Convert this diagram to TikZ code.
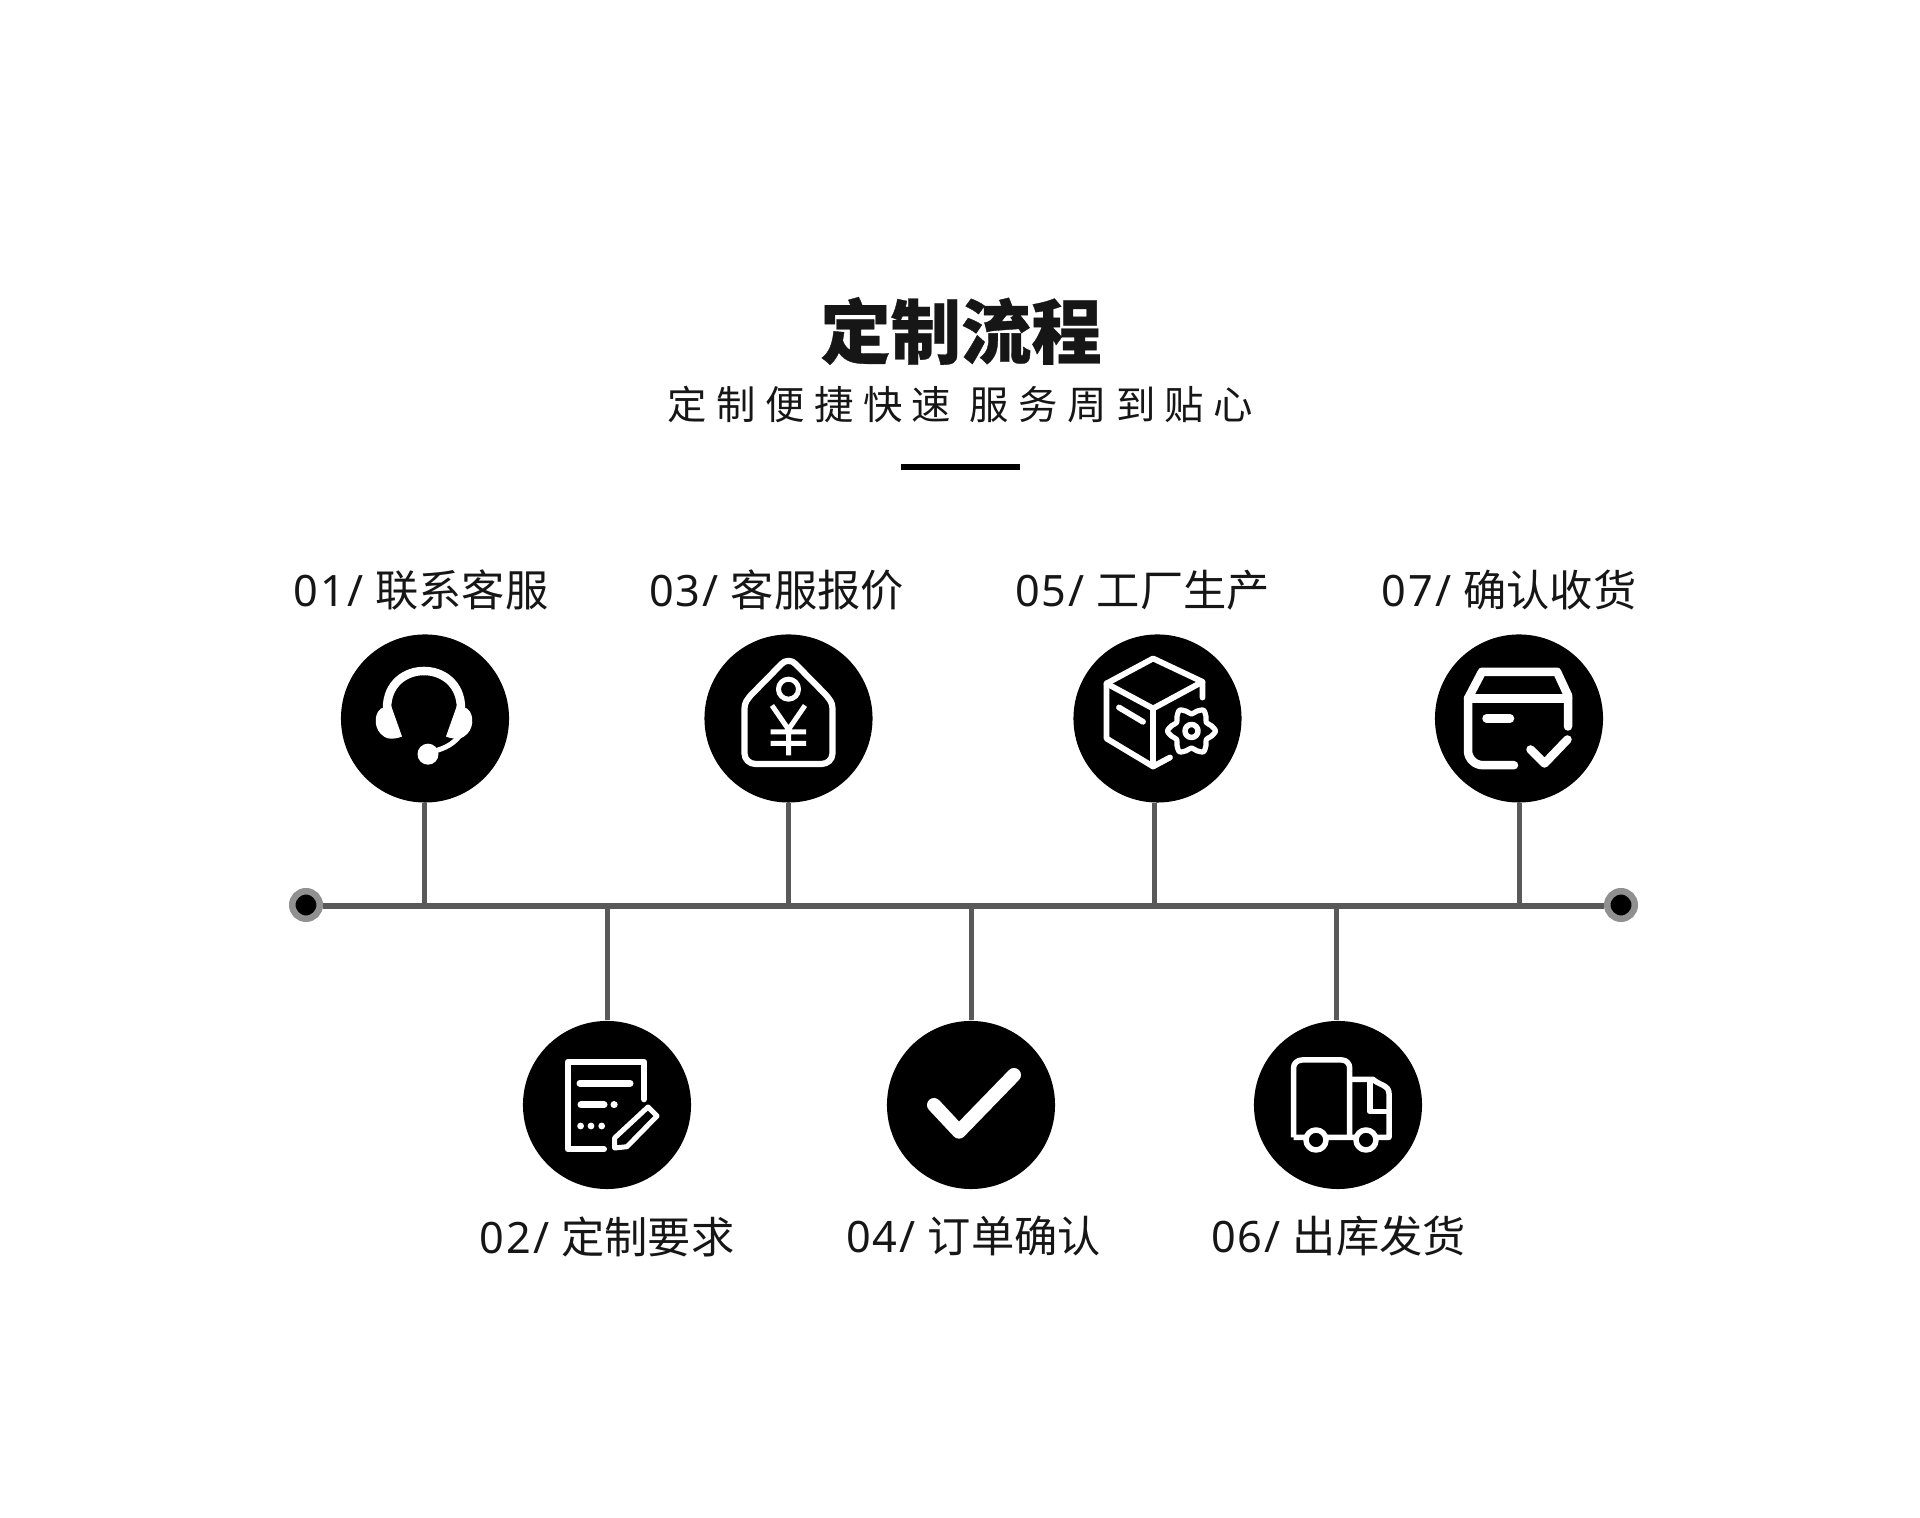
\documentclass[tikz,border=0pt]{standalone}
\usepackage{fontspec}
\setmainfont{Noto Sans CJK SC}
\newfontfamily\numfont{Noto Sans}
\usetikzlibrary{arrows.meta,positioning,calc}
\definecolor{linegray}{HTML}{595959}
\definecolor{dotgray}{HTML}{909090}
\definecolor{inkblack}{HTML}{161616}
\tikzset{
  stepcircle/.style={circle,fill=black,minimum size=1.68cm,inner sep=0pt},
  enddot/.style={circle,fill=black,draw=dotgray,line width=0.065cm,minimum size=0.275cm,inner sep=0pt},
  steplabel/.style={font=\fontsize{12.3pt}{14pt}\selectfont,text=inkblack,inner sep=0pt},
  mainline/.style={linegray,line width=0.06cm},
  stemline/.style={linegray,line width=0.05cm},
  icon/.style={white,line width=0.058cm,line join=round,line cap=round}
}
\newcommand{\stepno}[1]{{\numfont\addfontfeature{LetterSpace=5}#1}\hspace{0.12cm}}
\begin{document}
\begin{tikzpicture}[x=0.01cm,y=0.01cm]
\useasboundingbox (0,0) rectangle (1920,1518);
% heading
\node[text=inkblack,inner sep=0pt] (title) at (961,1187) {\fontsize{20pt}{24pt}\selectfont\bfseries\addfontfeature{FakeBold=0.5}定制流程};
\node[text=inkblack,inner sep=0pt] (subtitle) at (960.5,1113) {\fontsize{11.2pt}{13pt}\selectfont\addfontfeature{LetterSpace=24}定制便捷快速 服务周到贴心};
\node[fill=black,minimum width=1.19cm,minimum height=0.06cm,inner sep=0pt] (rule) at (960.5,1051) {};
% steps
\node[stepcircle] (c1) at (425,799.5) {};
\node[stepcircle] (c2) at (607,413) {};
\node[stepcircle] (c3) at (788.5,799.5) {};
\node[stepcircle] (c4) at (971,413) {};
\node[stepcircle] (c5) at (1157.5,799.5) {};
\node[stepcircle] (c6) at (1338,413) {};
\node[stepcircle] (c7) at (1519,799.5) {};
\node[steplabel] (l1) at (421,928) {\stepno{01/}联系客服};
\node[steplabel] (l2) at (607,281.5) {\stepno{02/}定制要求};
\node[steplabel] (l3) at (776.5,928) {\stepno{03/}客服报价};
\node[steplabel] (l4) at (973.5,281.5) {\stepno{04/}订单确认};
\node[steplabel] (l5) at (1142.5,928) {\stepno{05/}工厂生产};
\node[steplabel] (l6) at (1338.5,281.5) {\stepno{06/}出库发货};
\node[steplabel] (l7) at (1509,928) {\stepno{07/}确认收货};
% time line
\node[enddot] (dotl) at (306,613) {};
\node[enddot] (dotr) at (1621,613) {};
\draw[mainline] ([yshift=-0.015cm]dotl.east) -- ([yshift=-0.015cm]dotr.west);
\coordinate (j1) at (424.5,611);
\coordinate (j2) at (607,611);
\coordinate (j3) at (788.5,611);
\coordinate (j4) at (971.5,611);
\coordinate (j5) at (1154,611);
\coordinate (j6) at (1336,611);
\coordinate (j7) at (1519,611);
\foreach \i in {1,3,5,7} \draw[stemline] (c\i.south-|j\i) -- (j\i);
\foreach \i in {2,4,6} \draw[stemline] (c\i.north-|j\i) -- (j\i);
% headset
\begin{scope}[shift={(c1.center)}]
\draw[icon,line width=0.085cm,line cap=butt] (-38,10) .. controls (-38,60) and (36,60) .. (36,10);
\fill[white] (-34,13) -- (-23,-18) .. controls (-30,-21) and (-38,-21) .. (-41,-18) .. controls (-51,-12) and (-52,4) .. (-44,10) -- cycle;
\fill[white] (32,13) -- (21,-18) .. controls (28,-21) and (36,-21) .. (39,-18) .. controls (49,-12) and (50,4) .. (42,10) -- cycle;
\draw[icon,line width=0.05cm] (8,-33) .. controls (20,-30) and (30,-25) .. (37,-14);
\fill[white] (3,-35.7) circle (10.5);
\end{scope}
% price tag
\begin{scope}[shift={(c3.center)}]
\draw[icon,line width=0.062cm] (-44,10) -- (-44,-35) to[out=-90,in=180] (-33,-45.5) -- (33,-45.5) to[out=0,in=-90] (44,-35) -- (44,10) to[out=90,in=-50] (37,24) -- (7,54.5) to[out=130,in=50] (-7,54.5) -- (-37,24) to[out=-130,in=90] (-44,10) -- cycle;
\draw[icon,line width=0.05cm] (0,29.3) circle (10);
\draw[icon,line width=0.05cm,line cap=butt] (-16.5,13) -- (0,-11) -- (16.5,13) (0,-11) -- (0,-37) (-18,-13.3) -- (17.5,-13.3) (-18,-25) -- (17.5,-25);
\end{scope}
% box with gear
\begin{scope}[shift={(c5.center)}]
\draw[icon] (45,21) -- (45,36.7) -- (-4.4,60) -- (-51,35) -- (-51,-20) -- (-4.4,-48) -- (12.5,-39);
\draw[icon] (-51,35) -- (-4.4,10) -- (45,36.7);
\draw[icon] (-4.4,10) -- (-4.4,-48);
\draw[icon] (-38.5,11) -- (-14.5,-3.3);
\begin{scope}[shift={(34,-12.5)}]
\fill[black] (0,0) circle (17);
\draw[icon,line width=0.052cm] plot[domain=0:345,samples=24,smooth cycle] (\x:{20.5+3.5*cos(6*\x)});
\draw[icon,line width=0.055cm] (0,0) circle (6.5);
\end{scope}
\end{scope}
% box with check
\begin{scope}[shift={(c7.center)}]
\draw[icon,line width=0.085cm] (49,-8) -- (49,23) -- (38,46.7) -- (-37,46.7) -- (-51,20) -- (-51,-32) to[out=-90,in=180] (-36,-46.7) -- (-5,-46.7);
\draw[icon,line width=0.085cm] (-51,20) -- (49,20);
\draw[icon,line width=0.085cm] (-32.5,0) -- (-9,0);
\draw[icon,line width=0.085cm] (11.5,-31) -- (25.5,-45) -- (48.5,-21);
\end{scope}
% form with pencil
\begin{scope}[shift={(c2.center)}]
\draw[icon,line width=0.06cm] (37,5.7) -- (37,43.3) -- (-39.3,43.3) -- (-39.3,-44.3) -- (-3,-44.3);
\draw[icon,line width=0.07cm] (-27,21.7) -- (23,21.7);
\draw[icon,line width=0.07cm] (-26,0) -- (-3,0);
\draw[icon,line width=0.07cm] (7,0) -- (7.2,0);
\foreach \px in {-26.4,-16,-5.3} \fill[white] (\px,-21) circle (3.4);
\draw[icon,line width=0.05cm] (41,-2) -- (50,-11) -- (20,-41.7) -- (7.6,-43) -- (7.6,-33) -- cycle;
\end{scope}
% check
\begin{scope}[shift={(c4.center)}]
\draw[icon,line width=0.14cm] (-37,0) -- (-12,-26.7) -- (43,30);
\end{scope}
% truck
\begin{scope}[shift={(c6.center)}]
\draw[icon,line width=0.055cm,line cap=butt] (-44.5,-32.3) -- (-44.5,37) to[out=90,in=180] (-36,45) -- (4,45) to[out=0,in=90] (11.7,37) -- (11.7,-32.3);
\draw[icon,line width=0.055cm,line cap=butt] (-44.5,-32.3) -- (51,-32.3) -- (51,11.7) to[out=90,in=-45] (35,25.7) -- (11.7,25.7);
\draw[icon,line width=0.055cm,line cap=butt] (32,23) -- (32,-6.7) -- (51,-6.7);
\draw[icon,line width=0.055cm,fill=black] (-22,-35) circle (10);
\draw[icon,line width=0.055cm,fill=black] (28,-35) circle (10);
\end{scope}
\end{tikzpicture}
\end{document}
